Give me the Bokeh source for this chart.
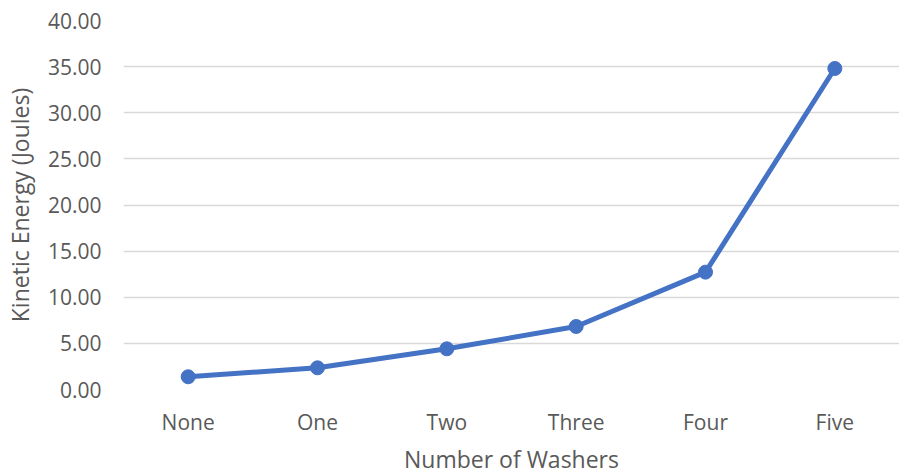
from bokeh.plotting import figure
from bokeh.models import Range1d, FixedTicker, NumeralTickFormatter
from bokeh.embed import file_html
from bokeh.resources import INLINE

categories = ["None", "One", "Two", "Three", "Four", "Five"]
kinetic_energy = [1.38, 2.35, 4.41, 6.83, 12.72, 34.80]
y_ticks = [0, 5, 10, 15, 20, 25, 30, 35, 40]

FONT = "Open Sans"
TXT = "#595959"
BLUE = "#4472C4"

p = figure(x_range=categories, y_range=Range1d(0, 40),
           frame_width=776, frame_height=369, output_backend="svg", toolbar_location=None,
           min_border_left=116, min_border_right=0, min_border_top=20, min_border_bottom=70)
p.outline_line_color = None
p.background_fill_color = "white"
p.border_fill_color = "white"

p.line(categories, kinetic_energy, line_color=BLUE, line_width=5, line_join="round")
p.scatter(categories, kinetic_energy, size=14, fill_color=BLUE, line_color=BLUE)

p.xgrid.grid_line_color = None
p.ygrid.grid_line_color = "#D9D9D9"
p.ygrid.grid_line_width = 1.5

p.yaxis.ticker = FixedTicker(ticks=y_ticks)
p.yaxis.formatter = NumeralTickFormatter(format="0.00")
for ax in (p.xaxis[0], p.yaxis[0]):
    ax.axis_line_color = None
    ax.major_tick_line_color = None
    ax.minor_tick_line_color = None
    ax.major_label_text_font = FONT
    ax.major_label_text_font_size = "21px"
    ax.major_label_text_color = TXT
    ax.axis_label_text_font = FONT
    ax.axis_label_text_font_size = "23px"
    ax.axis_label_text_color = TXT
    ax.axis_label_text_font_style = "normal"

p.yaxis.major_label_standoff = 16
p.yaxis.axis_label = "Kinetic Energy (Joules)"
p.yaxis.axis_label_standoff = 9
p.xaxis.major_label_standoff = 12
p.xaxis.axis_label = "Number of Washers"
p.xaxis.axis_label_standoff = 4

open("out.html", "w").write(file_html(p, INLINE))
